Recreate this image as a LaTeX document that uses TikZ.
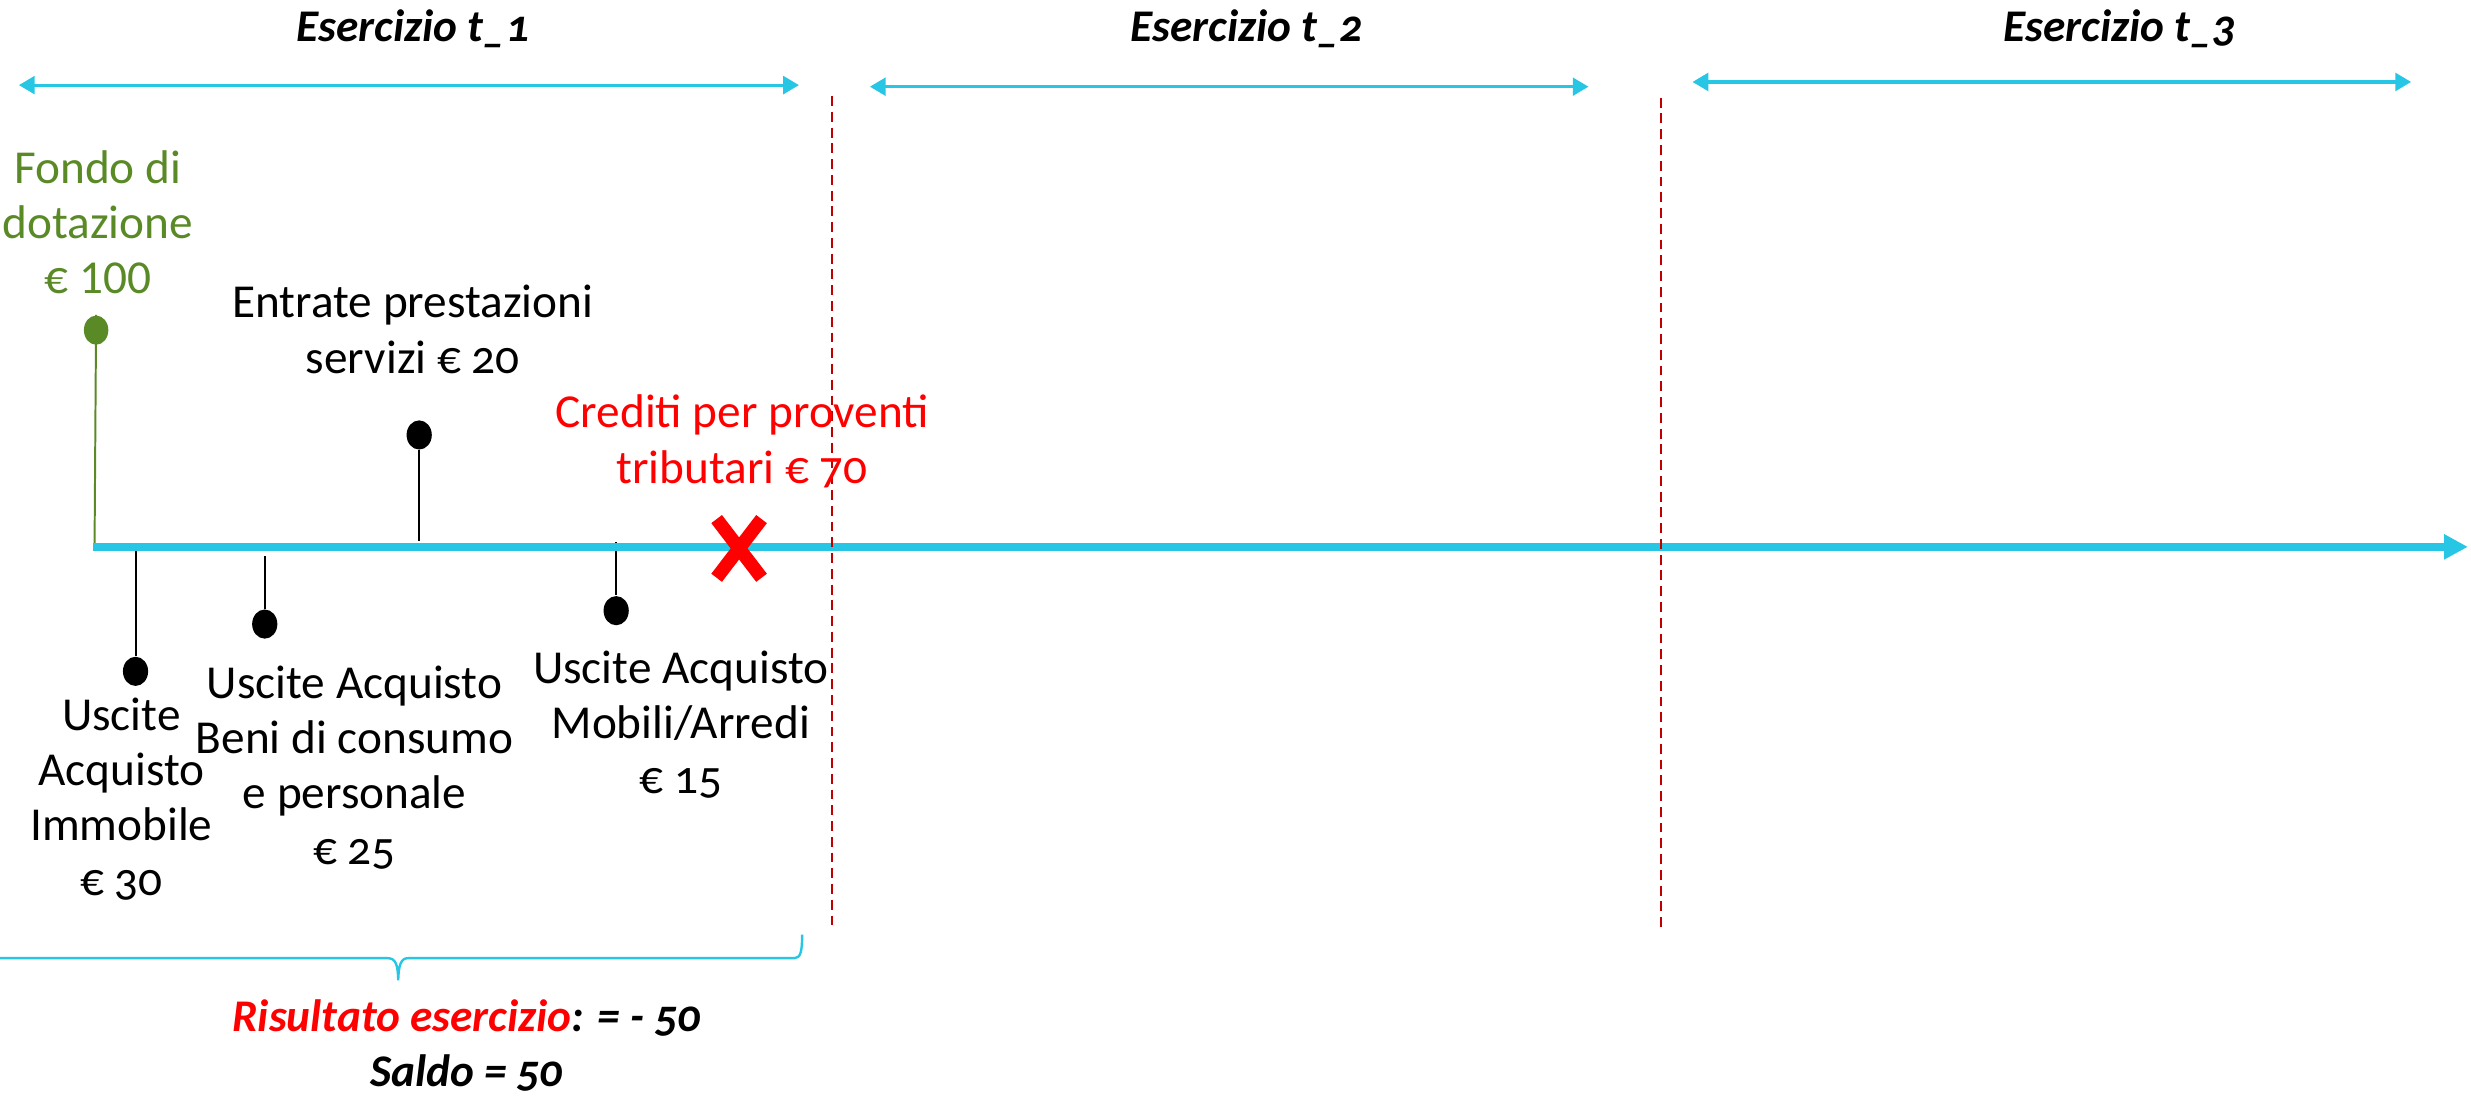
\documentclass[tikz,border=0pt]{standalone}
\usepackage{fontspec}
\setmainfont{Carlito}[Numbers=OldStyle]
\usetikzlibrary{arrows.meta,shapes.geometric,shapes.misc}
\definecolor{axiscyan}{RGB}{38,198,228}
\definecolor{fondogreen}{RGB}{90,138,38}
\definecolor{sepred}{RGB}{192,0,0}

\begin{document}
\begin{tikzpicture}[x=0.4pt,y=-0.4pt,
    txt/.style={font=\fontsize{12}{14}\selectfont, align=center, inner sep=0pt},
    ttl/.style={font=\fontsize{11.5}{14}\selectfont\bfseries\itshape, align=center, inner sep=0pt},
    period/.style={draw=axiscyan, line width=0.8pt, {Triangle[length=4pt,width=4.5pt]}-{Triangle[length=4pt,width=4.5pt]}},
    sepline/.style={draw=sepred, line width=0.4pt, dash pattern=on 2.5pt off 1.5pt},
    dot/.style={ellipse, fill=black, minimum width=6.4pt, minimum height=7.4pt, inner sep=0pt},
    stem/.style={draw=black, line width=0.5pt}]
  \useasboundingbox (0,0) rectangle (1568,695);
  % Titles
  \node[ttl] (t1) at (262,18) {Esercizio t\_1};
  \node[ttl] (t2) at (791,18) {Esercizio t\_2};
  \node[ttl] (t3) at (1345,18) {Esercizio t\_3};
  % Periods
  \coordinate (p1a) at (12,54);   \coordinate (p1b) at (507,54);
  \coordinate (p2a) at (552,55);  \coordinate (p2b) at (1008,55);
  \coordinate (p3a) at (1074,52); \coordinate (p3b) at (1530,52);
  \draw[period] (p1a) -- (p1b);
  \draw[period] (p2a) -- (p2b);
  \draw[period] (p3a) -- (p3b);
  % Fondo di dotazione
  \node[txt, text=fondogreen] (fondo) at (62,141) {Fondo di\\dotazione\\{\addfontfeature{Numbers=Lining}€ 100}};
  \node[dot, fill=fondogreen, minimum width=6.2pt] (g) at (61,209.5) {};
  \coordinate (g0) at (60,347);
  \draw[fondogreen, line width=0.5pt] (g.north) -- (g0);
  % Entrate / uscite
  \node[dot] (d1) at (86,426) {};
  \node[dot] (d2) at (168,396) {};
  \node[dot] (d3) at (266,276) {};
  \node[dot] (d4) at (391,387.5) {};
  \coordinate (s1) at (86,347);
  \coordinate (s2) at (168,353);
  \coordinate (s3) at (266,343);
  \coordinate (s4) at (391,344);
  \draw[stem] (s1) -- (d1);
  \draw[stem] (s2) -- (d2);
  \draw[stem] (s3) -- (d3);
  \draw[stem] (s4) -- (d4);
  % Time axis
  \coordinate (start) at (59,347);
  \coordinate (end) at (1566,347);
  \draw[axiscyan, line width=2pt, -{Triangle[length=6pt,width=6pt]}] (start) -- (end);
  % Separators
  \draw[sepline] (528,61) -- (528,590);
  \draw[sepline] (1054,62) -- (1054,590);
  % Credit mark
  \node[cross out, draw=red, line width=3.4pt, minimum width=8pt, minimum height=11.5pt, inner sep=0pt] (x) at (469,348) {};
  % Labels
  \node[txt] (entr) at (262,209) {Entrate prestazioni\\servizi € 20};
  \node[txt, text=red] (cred) at (471,280) {Crediti per proventi\\tributari € 70};
  \node[txt] (imm) at (77,507) {Uscite\\Acquisto\\Immobile\\€ 30};
  \node[txt] (beni) at (225,487) {Uscite Acquisto\\Beni di consumo\\e personale\\€ 25};
  \node[txt] (mob) at (432,460) {Uscite Acquisto\\Mobili/Arredi\\€ 15};
  % Brace
  \draw[axiscyan, line width=0.6pt] (0,608) -- (246,608)
    .. controls (251,608) and (252.5,612) .. (252.7,622)
    .. controls (253,612) and (254.5,608) .. (259,608) -- (504,608)
    .. controls (508,608) and (509,604) .. (509,593);
  % Result
  \node[ttl] (ris) at (296,646) {\textcolor{red}{Risultato esercizio}: = - 50};
  \node[ttl] (saldo) at (296,681) {Saldo = 50};
\end{tikzpicture}
\end{document}
